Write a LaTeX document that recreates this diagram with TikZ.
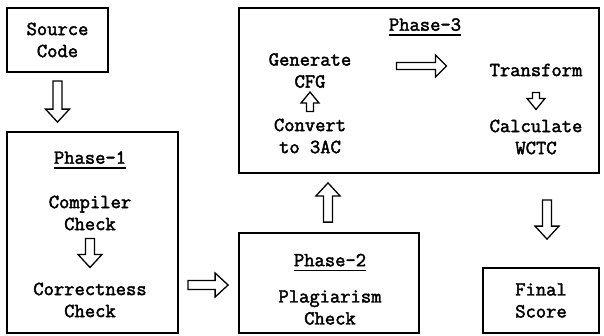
\documentclass[tikz,border=0pt]{standalone}
\usepackage{fontspec}
\setmonofont{Latin Modern Mono}[AutoFakeBold=2.2]
\usetikzlibrary{calc,shapes}

\newcommand\ulhead[1]{\setbox0\hbox{#1}\rlap{\rule[-5pt]{\wd0}{1.4pt}}\box0}
\def\fatshaft{4.5pt}\def\fathead{12pt}\def\fatlen{13pt}

\tikzset{
  box/.style={draw, line width=1.8pt, rectangle, inner sep=0pt, align=center},
  lbl/.style={inner sep=0pt, align=center},
  smallarrow/.code={\def\fatshaft{3.5pt}\def\fathead{9pt}\def\fatlen{11pt}},
  midarrow/.code={\def\fatshaft{3.5pt}\def\fathead{11pt}\def\fatlen{11pt}},
  fatarrow/.style={draw, line width=1.3pt, line join=miter, to path={
    let \p1=(\tikztostart), \p2=(\tikztotarget),
        \n1={atan2(\y2-\y1,\x2-\x1)}, \n2={veclen(\x2-\x1,\y2-\y1)} in
    ($(\p1)+(\n1+90:\fatshaft)$)
    -- ($(\p1)+(\n1:\n2-\fatlen)+(\n1+90:\fatshaft)$)
    -- ($(\p1)+(\n1:\n2-\fatlen)+(\n1+90:\fathead)$)
    -- (\p2)
    -- ($(\p1)+(\n1:\n2-\fatlen)+(\n1-90:\fathead)$)
    -- ($(\p1)+(\n1:\n2-\fatlen)+(\n1-90:\fatshaft)$)
    -- ($(\p1)+(\n1-90:\fatshaft)$) -- cycle}}
}

\begin{document}
\begin{tikzpicture}[x=1pt, y=-1pt,
  every node/.style={font=\ttfamily\bfseries\fontsize{20}{22}\selectfont}]

\useasboundingbox (0,0) rectangle (604,335);

% outer boxes
\node[box, minimum width=101pt, minimum height=64pt] (src) at (57.5,40) {Source\\Code};
\node[box, minimum width=171pt, minimum height=201pt] (p1) at (92.5,232.5) {};
\node[box, minimum width=180pt, minimum height=100pt] (p2) at (329,283) {};
\node[box, minimum width=360pt, minimum height=165pt] (p3) at (419,90.5) {};
\node[box, minimum width=116pt, minimum height=65pt] (final) at (541,300.5) {Final\\Score};

% phase 1
\node[lbl] (p1t) at (90,160) {\ulhead{Phase-1}};
\node[lbl] (cmp) at (90,213) {Compiler\\Check};
\node[lbl] (cor) at (90,300) {Correctness\\Check};

% phase 2
\node[lbl] (p2t) at (330,262.5) {\ulhead{Phase-2}};
\node[lbl] (plg) at (330,307.5) {Plagiarism\\Check};

% phase 3
\node[lbl] (p3t) at (425,27) {\ulhead{Phase-3}};
\node[lbl] (gen) at (310,70.5) {Generate\\CFG};
\node[lbl] (cnv) at (310,136) {Convert\\to 3AC};
\node[lbl] (trn) at (536,70) {Transform};
\node[lbl] (clc) at (536,137) {Calculate\\WCTC};

% block arrows
\draw[fatarrow] ($(src.south)+(0,8)$) to ($(src.south |- p1.north)+(0,-9)$);
\draw[fatarrow] ($(cmp.south)+(0,8)$) to ($(cor.north)+(0,-15)$);
\draw[fatarrow] ($(p1.east |- p2.west)+(9,2)$) to ($(p2.west)+(-10,2)$);
\draw[fatarrow] ($(p2.north)+(-1,-10)$) to ($(p2.north |- p3.south)+(-1,9)$);
\draw[fatarrow] ($(final.north |- p3.south)+(6,26)$) to ($(final.north)+(6,-28)$);

%\draw[fatarrow] (gen.east) to (trn.west);
\draw[fatarrow, smallarrow] ($(cnv.north)+(0,-7)$) to ($(gen.south)+(0,4)$);
\draw[fatarrow, midarrow] ($(gen.east |- trn.west)+(45,-4)$) to ($(trn.west)+(-43,-4)$);
\draw[fatarrow, smallarrow] ($(trn.south)+(0,16)$) to ($(clc.north)+(0,-10)$);

\end{tikzpicture}
\end{document}
